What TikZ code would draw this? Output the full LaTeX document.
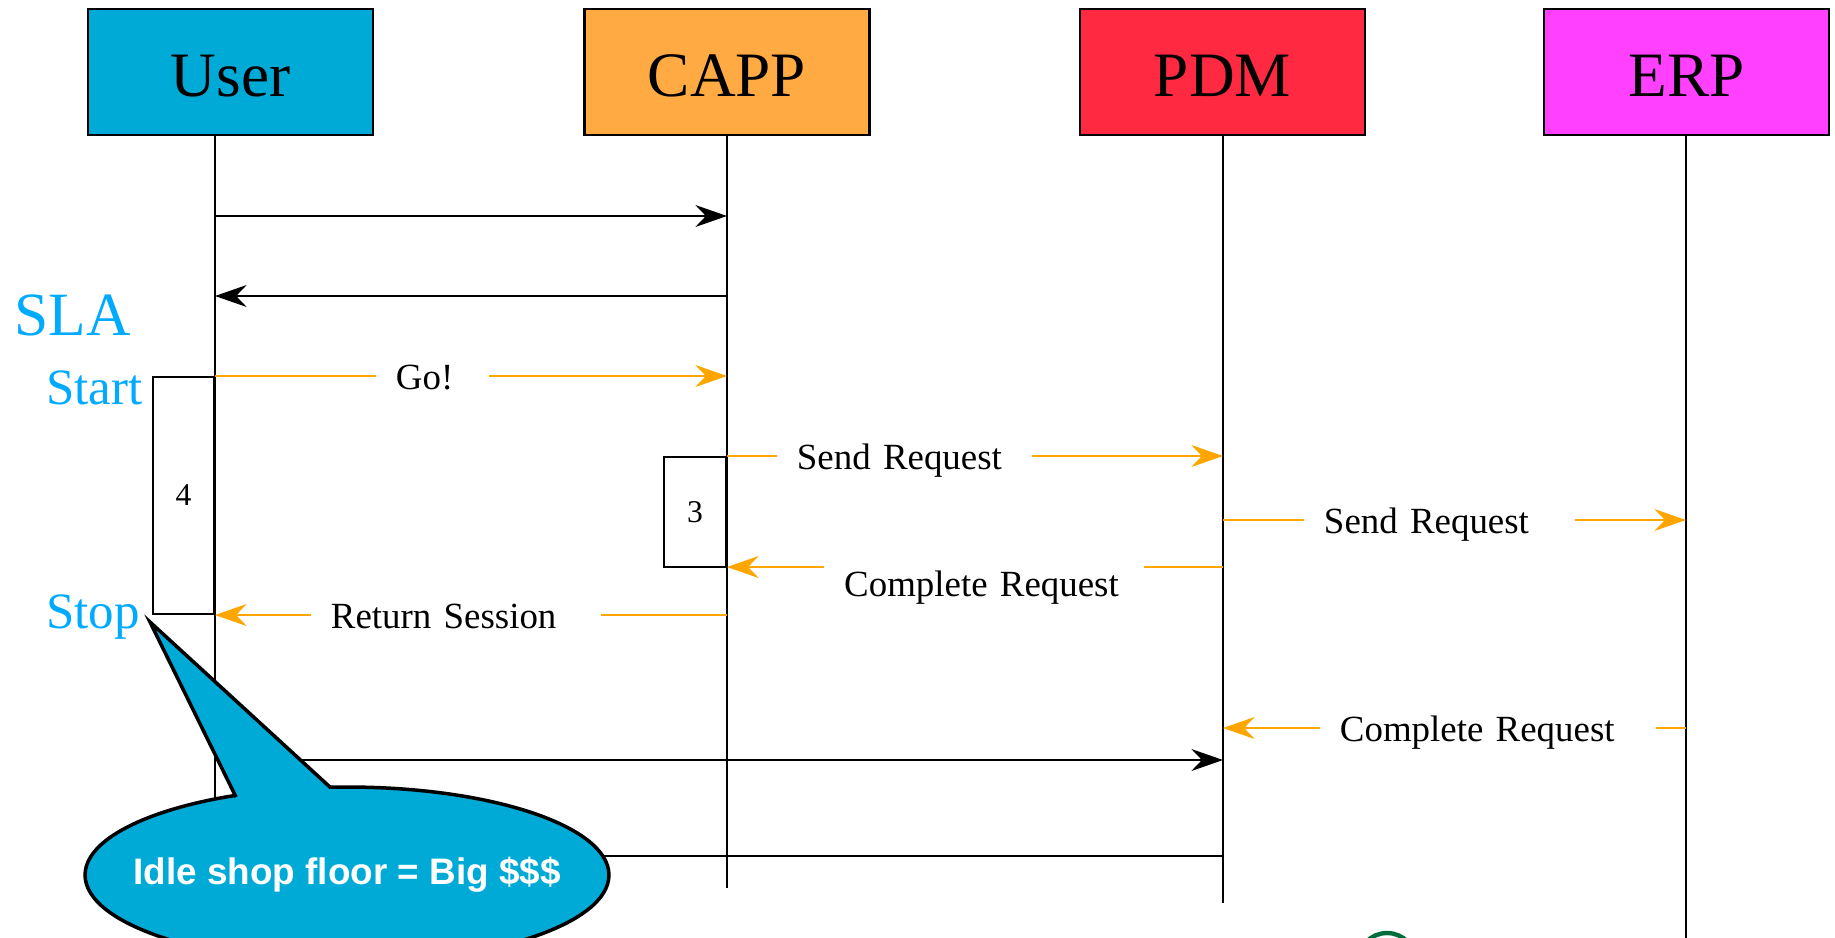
\documentclass[tikz,border=0pt]{standalone}
\usepackage{fontspec}
\setmainfont{Liberation Serif}
\newfontfamily\calloutfont{Liberation Sans}
\usetikzlibrary{arrows.meta,shapes.geometric}

\definecolor{userblue}{RGB}{0,170,214}
\definecolor{capporange}{RGB}{255,170,66}
\definecolor{pdmred}{RGB}{255,42,66}
\definecolor{erppink}{RGB}{255,64,255}
\definecolor{msgorange}{RGB}{255,165,0}
\definecolor{slablue}{RGB}{0,170,255}
\definecolor{logogreen}{RGB}{0,110,60}

\begin{document}
\begin{tikzpicture}[x=0.02cm, y=-0.02cm,
    actor/.style={draw, line width=1.3pt, minimum width=5.7cm, minimum height=2.52cm,
      inner sep=0pt, text height=28pt, text depth=0pt, font=\fontsize{36}{40}\selectfont},
    life/.style={line width=0.9pt},
    call/.style={line width=1.1pt, -{Stealth[length=18pt,width=12.5pt,inset=6pt]}},
    reply/.style={call, msgorange},
    lbl/.style={fill=white, text=black, inner xsep=0.4cm, inner ysep=0.16cm,
      text height=14.7pt, text depth=4.6pt, align=left, anchor=west, yshift=-0.1cm,
      font=\fontsize{21}{24}\selectfont},
    busy/.style={draw, fill=white, line width=1.1pt, inner sep=0pt,
      font=\fontsize{18}{20}\selectfont},
    sla/.style={text=slablue, inner sep=0pt},
  ]

  \useasboundingbox (0,0) rectangle (1835,937);

  % Actors
  \node[actor, fill=userblue]   (user) at (230.5,72)  {User};
  \node[actor, fill=capporange] (capp) at (727,72)    {CAPP};
  \node[actor, fill=pdmred]     (pdm)  at (1222.5,72) {PDM};
  \node[actor, fill=erppink]    (erp)  at (1686.5,72) {ERP};

  % Lifelines
  \coordinate (uL) at (215,886);
  \coordinate (cL) at (727,888);
  \coordinate (pL) at (1223,903);
  \coordinate (eL) at (1686,940);

  \draw[life] (uL |- user.south) -- (uL);
  \draw[life] (cL |- capp.south) -- (cL);
  \draw[life] (pL |- pdm.south)  -- (pL);
  \draw[life] (eL |- erp.south)  -- (eL);

  % Activations
  \node[busy, minimum width=1.22cm, minimum height=4.74cm] (act4) at (183.5,495.5) {4};
  \node[busy, minimum width=1.24cm, minimum height=2.2cm]  (act3) at (695,512)    {3};

  % SLA marks
  \node[sla, anchor=base west, font=\fontsize{35}{38}\selectfont] (sla)   at (14,335)  {SLA};
  \node[sla, anchor=base east, font=\fontsize{29}{32}\selectfont] (start) at (143,404) {Start};
  \node[sla, anchor=base east, font=\fontsize{29}{32}\selectfont] (stop)  at (140,628) {Stop};

  % Messages
  \draw[call] (uL |- 0,216) -- (cL |- 0,216);
  \draw[call] (cL |- 0,296) -- (uL |- 0,296);

  \draw[reply] (uL |- 0,376) -- (cL |- 0,376)
    node[lbl, pos=0.3125, text width=1.46cm] {Go!};
  \draw[reply] (cL |- 0,456) -- (pL |- 0,456)
    node[lbl, pos=0.0988, text width=4.3cm] {Send Request};
  \draw[reply] (pL |- 0,520) -- (eL |- 0,520)
    node[lbl, pos=0.1728, text width=4.62cm] {Send Request};
  \draw[reply] (pL |- 0,567) -- (cL |- 0,567)
    node[lbl, pos=0.806, text width=5.6cm, yshift=-0.32cm] {Complete Request};
  \draw[reply] (cL |- 0,615) -- (uL |- 0,615)
    node[lbl, pos=0.8145, text width=5cm] {Return Session};
  \draw[reply] (eL |- 0,728) -- (pL |- 0,728)
    node[lbl, pos=0.7927, text width=5.92cm] {Complete Request};

  \draw[call] (uL |- 0,760) -- (pL |- 0,760);
  \draw[call] (pL |- 0,856) -- (uL |- 0,856);

  % Callout
  \node[ellipse, draw, line width=2pt, fill=userblue, minimum width=10.48cm,
    minimum height=3.52cm, inner sep=0pt] (idle) at (347,875) {};

  \coordinate (tip) at (150,622);
  \coordinate (tl) at (236,797);
  \coordinate (tr) at (331,788);
  \fill[userblue] (tip) -- (tl) -- ([yshift=-0.16cm]tl) -- ([yshift=-0.16cm]tr) -- (tr) -- cycle;
  \draw[line width=2pt, line join=miter] (tl) -- (tip) -- (tr);

  \node[text=white, font=\calloutfont\bfseries\fontsize{21}{24}\selectfont] (idletext)
    at (idle.center) {Idle shop floor = Big \$\$\$};

  %logo, cut by the page edge
  \draw[logogreen, line width=2.5pt] (1387,962) circle [radius=0.58cm];
\end{tikzpicture}
\end{document}
